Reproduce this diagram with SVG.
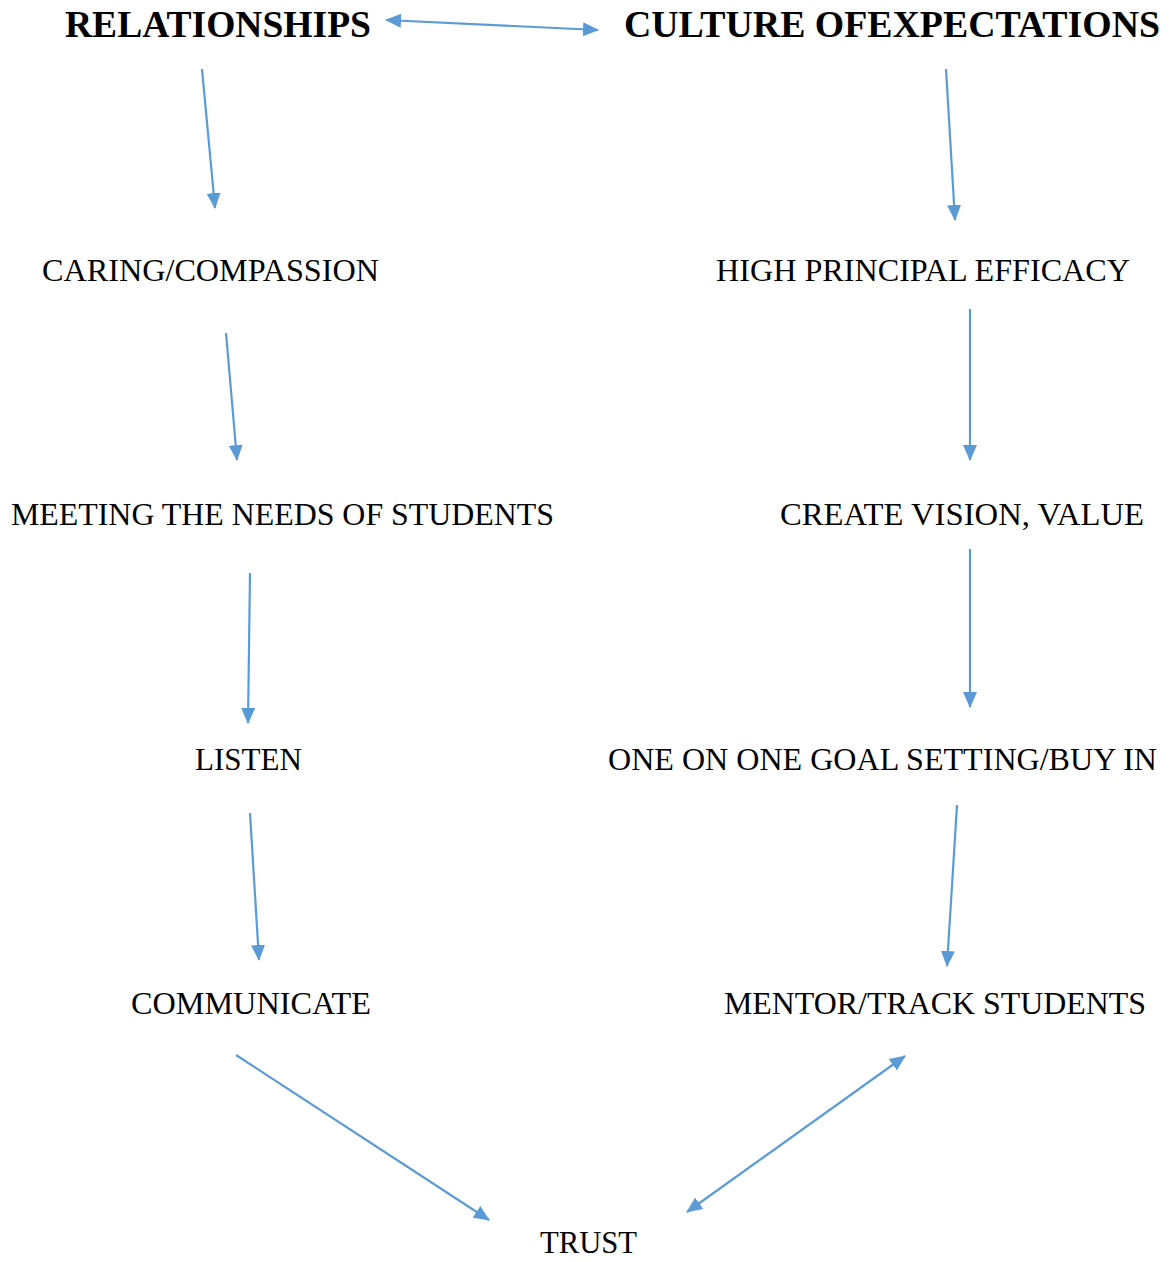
<svg xmlns="http://www.w3.org/2000/svg" width="1173" height="1262" viewBox="0 0 1173 1262">
<style>
text{font-family:"Liberation Serif","Times New Roman",serif;fill:#000}
.t{font-size:37px;font-weight:bold}
.n{font-size:31px}
.c line{stroke:#5B9BD5;stroke-width:2.2;fill:none}
</style>
<defs>
<marker id="ah" viewBox="0 0 16 14" refX="15" refY="7" markerWidth="16" markerHeight="14" markerUnits="userSpaceOnUse" orient="auto-start-reverse">
<path d="M0,0 L16,7 L0,14 Z" fill="#5B9BD5"/>
</marker>
</defs>
<rect width="1173" height="1262" fill="#fff"/>
<g id="relationships"><text class="t" x="65" y="37" textLength="306" lengthAdjust="spacingAndGlyphs">RELATIONSHIPS</text></g>
<g id="culture"><text class="t" x="624" y="37" textLength="536" lengthAdjust="spacingAndGlyphs">CULTURE OFEXPECTATIONS</text></g>
<g id="caring"><text class="n" x="42" y="281" textLength="337" lengthAdjust="spacingAndGlyphs">CARING/COMPASSION</text></g>
<g id="efficacy"><text class="n" x="716" y="281" textLength="414" lengthAdjust="spacingAndGlyphs">HIGH PRINCIPAL EFFICACY</text></g>
<g id="needs"><text class="n" x="11" y="525" textLength="543" lengthAdjust="spacingAndGlyphs">MEETING THE NEEDS OF STUDENTS</text></g>
<g id="vision"><text class="n" x="780" y="525" textLength="364" lengthAdjust="spacingAndGlyphs">CREATE VISION, VALUE</text></g>
<g id="listen"><text class="n" x="195" y="770" textLength="107" lengthAdjust="spacingAndGlyphs">LISTEN</text></g>
<g id="goal"><text class="n" x="608" y="770" textLength="549" lengthAdjust="spacingAndGlyphs">ONE ON ONE GOAL SETTING/BUY IN</text></g>
<g id="communicate"><text class="n" x="131" y="1014" textLength="240" lengthAdjust="spacingAndGlyphs">COMMUNICATE</text></g>
<g id="mentor"><text class="n" x="724" y="1014" textLength="422" lengthAdjust="spacingAndGlyphs">MENTOR/TRACK STUDENTS</text></g>
<g id="trust"><text class="n" x="540" y="1253" textLength="97" lengthAdjust="spacingAndGlyphs">TRUST</text></g>
<g class="c" id="connectors">
<line x1="386" y1="20" x2="598" y2="30" marker-start="url(#ah)" marker-end="url(#ah)"/>
<line x1="202" y1="69" x2="215" y2="208" marker-end="url(#ah)"/>
<line x1="946" y1="69" x2="955" y2="220" marker-end="url(#ah)"/>
<line x1="226" y1="333" x2="237" y2="460" marker-end="url(#ah)"/>
<line x1="970" y1="309" x2="970" y2="460" marker-end="url(#ah)"/>
<line x1="250" y1="573" x2="248" y2="723" marker-end="url(#ah)"/>
<line x1="970" y1="549" x2="970" y2="707" marker-end="url(#ah)"/>
<line x1="250" y1="813" x2="259" y2="960" marker-end="url(#ah)"/>
<line x1="957" y1="805" x2="947" y2="966" marker-end="url(#ah)"/>
<line x1="236" y1="1055" x2="489" y2="1220" marker-end="url(#ah)"/>
<line x1="687" y1="1212" x2="905" y2="1056" marker-start="url(#ah)" marker-end="url(#ah)"/>
</g>
</svg>
